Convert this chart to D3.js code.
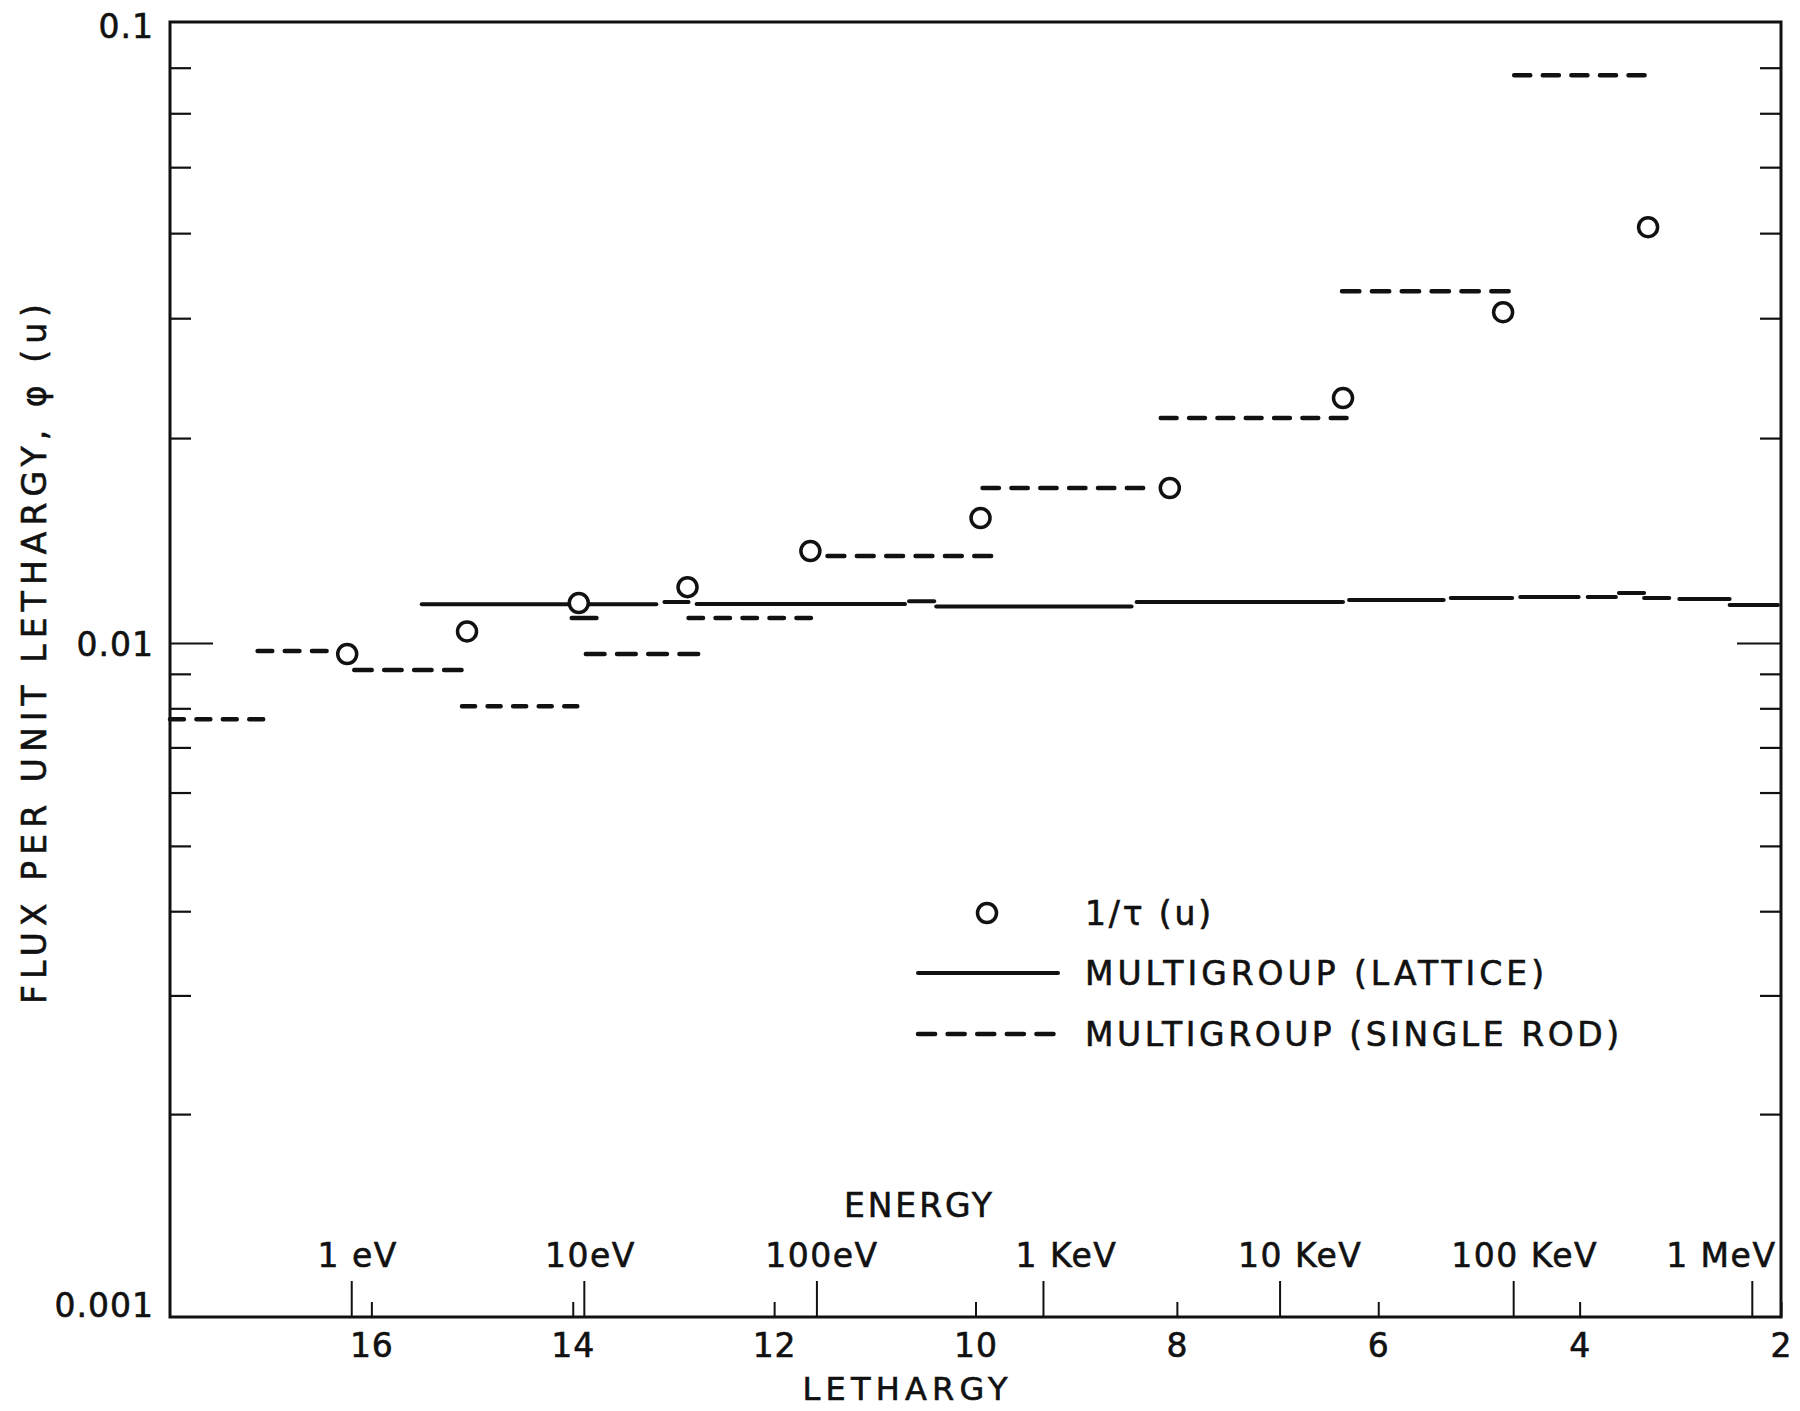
<!DOCTYPE html>
<html>
<head>
<meta charset="utf-8">
<script src="https://cdn.jsdelivr.net/npm/d3@7"></script>
<style>
  html, body { margin: 0; padding: 0; background: #fff; }
  svg { display: block; }
  text { font-family: "DejaVu Sans", "Liberation Sans", sans-serif; fill: #111;
         stroke: #111; stroke-width: 0.6px; }
</style>
</head>
<body>
<svg id="chart" width="1800" height="1411"></svg>
<script>
// ---- Axis definitions -------------------------------------------------
const lethargyTicks = [16, 14, 12, 10, 8, 6, 4, 2];
const energyTickLethargy = [16.20, 13.89, 11.58, 9.33, 6.98, 4.66, 2.29];
const energyTickLabels = ["1 eV", "10eV", "100eV", "1 KeV", "10 KeV", "100 KeV", "1 MeV"];
const fluxMajorTicks = [0.001, 0.01];
const fluxMajorLabels = ["0.001", "0.01"];
const fluxMinorTicks = [0.002, 0.003, 0.004, 0.005, 0.006, 0.007, 0.008, 0.009,
                        0.02, 0.03, 0.04, 0.05, 0.06, 0.07];
const fluxFrameTop = 0.0817;      // flux value at the top edge of the frame
const fluxTopLabel = "0.1";

// ---- 1/tau(u) points ---------------------------------------------------
const ageLethargy = [16.24, 15.05, 13.94, 12.86, 11.64, 9.95, 8.07, 6.35, 4.76, 3.32];
const ageFlux     = [0.00963, 0.01040, 0.01145, 0.01208, 0.01365, 0.01526, 0.01689, 0.02290, 0.03062, 0.04082];

// ---- Multigroup (lattice): group start, group end, flux ------------------
const latticeStart = [15.50, 13.09, 12.77, 10.66, 10.39, 8.40, 6.29, 5.28, 4.59, 3.92, 3.61, 3.36, 3.01, 2.51];
const latticeEnd   = [13.17, 12.85, 10.70, 10.41, 8.45, 6.35, 5.35, 4.67, 4.01, 3.64, 3.36, 3.11, 2.51, 2.03];
const latticeFlux  = [0.01140, 0.01149, 0.01141, 0.01152, 0.01131, 0.01149, 0.01157, 0.01164, 0.01168, 0.01168, 0.01184, 0.01164, 0.01160, 0.01137];

// ---- Multigroup (single rod): group start, group end, flux ---------------
const rodStart = [18.00, 17.13, 16.17, 15.10, 14.01, 13.87, 12.85, 11.47, 9.93, 8.16, 6.36, 4.65];
const rodEnd   = [17.03, 16.40, 15.06, 13.91, 13.72, 12.71, 11.59, 9.80, 8.29, 6.27, 4.66, 3.31];
const rodFlux  = [0.00771, 0.00973, 0.00912, 0.00806, 0.01088, 0.00963, 0.01088, 0.01342, 0.01689, 0.02140, 0.03287, 0.06823];

// ---- Layout --------------------------------------------------------------
const svg = d3.select("#chart");
const plotL = 170, plotR = 1781, plotT = 22, plotB = 1317;

const x = d3.scaleLinear().domain([18, 2]).range([plotL, plotR]);
const y = d3.scaleLog().domain([0.001, 0.01, fluxFrameTop]).range([plotB, 643, plotT]);

const FS = 33;
const DASH_W = 4.5, GAP_VIS = 8, PERIOD = 28;

// dash pattern that fits a whole number of dashes into a segment of length L
function dashFor(L) {
  const n = Math.max(1, Math.round((L + GAP_VIS) / PERIOD));
  const dv = (L - (n - 1) * GAP_VIS) / n;
  return `${Math.max(dv - DASH_W, 0.1)} ${GAP_VIS + DASH_W}`;
}

// frame
svg.append("rect")
  .attr("x", plotL).attr("y", plotT)
  .attr("width", plotR - plotL).attr("height", plotB - plotT)
  .attr("fill", "none").attr("stroke", "#111").attr("stroke-width", 3);

function strip(g) { g.select(".domain").remove(); }

// left flux axis: minor ticks, major tick + labels
svg.append("g").attr("transform", `translate(${plotL},0)`)
  .call(d3.axisLeft(y).tickValues(fluxMinorTicks).tickSize(-21).tickFormat(""))
  .call(strip)
  .selectAll("line").attr("stroke", "#111").attr("stroke-width", 2.2);

const majorLeft = svg.append("g").attr("transform", `translate(${plotL},0)`)
  .call(d3.axisLeft(y).tickValues(fluxMajorTicks)
        .tickSize(-43).tickPadding(16)
        .tickFormat((d, i) => fluxMajorLabels[i]))
  .call(strip);
majorLeft.selectAll("line")
  .attr("stroke", "#111").attr("stroke-width", 2.2)
  .attr("opacity", d => d === 0.001 ? 0 : 1);
majorLeft.selectAll("text")
  .attr("font-size", FS).attr("letter-spacing", 1)
  .attr("font-family", null).attr("fill", "#111")
  .attr("dy", d => d === 0.001 ? "-0.02em" : "0.38em");

svg.append("text")
  .attr("x", plotL - 16).attr("y", y(fluxFrameTop))
  .attr("dy", "0.48em").attr("text-anchor", "end")
  .attr("font-size", FS).attr("letter-spacing", 1)
  .text(fluxTopLabel);

// right flux axis: ticks only
svg.append("g").attr("transform", `translate(${plotR},0)`)
  .call(d3.axisRight(y).tickValues(fluxMinorTicks).tickSize(-21).tickFormat(""))
  .call(strip)
  .selectAll("line").attr("stroke", "#111").attr("stroke-width", 2.2);
svg.append("g").attr("transform", `translate(${plotR},0)`)
  .call(d3.axisRight(y).tickValues([0.01]).tickSize(-44).tickFormat(""))
  .call(strip)
  .selectAll("line").attr("stroke", "#111").attr("stroke-width", 2.2);

// bottom lethargy axis
const lethAxis = svg.append("g").attr("transform", `translate(0,${plotB})`)
  .call(d3.axisBottom(x).tickValues(lethargyTicks).tickSize(-15).tickPadding(17)
        .tickFormat(d3.format("d")))
  .call(strip);
lethAxis.selectAll("line").attr("stroke", "#111").attr("stroke-width", 2);
lethAxis.selectAll("text")
  .attr("font-size", FS).attr("letter-spacing", 1)
  .attr("font-family", null).attr("fill", "#111");

// energy scale drawn on the same bottom edge
const energyShift = [6, 6, 5, 23, 20, 11, -31];
const energyAxis = svg.append("g").attr("transform", `translate(0,${plotB})`)
  .call(d3.axisTop(x).tickValues(energyTickLethargy).tickSize(36).tickPadding(14)
        .tickFormat((d, i) => energyTickLabels[i]))
  .call(strip);
energyAxis.selectAll("line").attr("stroke", "#111").attr("stroke-width", 2);
energyAxis.selectAll("text")
  .attr("font-size", FS).attr("letter-spacing", 1.5)
  .attr("font-family", null).attr("fill", "#111")
  .attr("dx", (d, i) => energyShift[i]);

// axis titles
svg.append("text").attr("x", 918).attr("y", 1217)
  .attr("text-anchor", "middle").attr("font-size", FS)
  .attr("textLength", 148).attr("lengthAdjust", "spacing")
  .text("ENERGY");
svg.append("text").attr("x", 905).attr("y", 1400)
  .attr("text-anchor", "middle").attr("font-size", 32)
  .attr("textLength", 205).attr("lengthAdjust", "spacing")
  .text("LETHARGY");
svg.append("text")
  .attr("transform", "translate(46,654) rotate(-90)")
  .attr("text-anchor", "middle").attr("font-size", FS)
  .attr("textLength", 700).attr("lengthAdjust", "spacing")
  .text("FLUX PER UNIT LETHARGY, φ (u)");

// ---- Data marks ------------------------------------------------------------
const seg = d3.line().x(d => x(d[0])).y(d => y(d[1]));

svg.append("g").selectAll("path")
  .data(d3.range(latticeStart.length))
  .join("path")
  .attr("d", i => seg([[latticeStart[i], latticeFlux[i]], [latticeEnd[i], latticeFlux[i]]]))
  .attr("fill", "none").attr("stroke", "#111")
  .attr("stroke-width", 4).attr("stroke-linecap", "round");

svg.append("g").selectAll("path")
  .data(d3.range(rodStart.length))
  .join("path")
  .attr("d", i => seg([[rodStart[i], rodFlux[i]], [rodEnd[i], rodFlux[i]]]))
  .attr("fill", "none").attr("stroke", "#111")
  .attr("stroke-width", DASH_W).attr("stroke-linecap", "round")
  .attr("stroke-dasharray", i => dashFor(Math.abs(x(rodEnd[i]) - x(rodStart[i]))));

svg.append("g").selectAll("circle")
  .data(d3.range(ageLethargy.length))
  .join("circle")
  .attr("cx", i => x(ageLethargy[i]))
  .attr("cy", i => y(ageFlux[i]))
  .attr("r", 9.5)
  .attr("fill", "#fff").attr("stroke", "#111").attr("stroke-width", 3.5);

// ---- Legend ------------------------------------------------------------------
const legend = svg.append("g");
const legTextX = 1085, legLineX1 = 918, legLineX2 = 1058;
legend.append("circle").attr("cx", 987).attr("cy", 913).attr("r", 9.5)
  .attr("fill", "#fff").attr("stroke", "#111").attr("stroke-width", 3.5);
legend.append("text").attr("x", legTextX).attr("y", 913).attr("dy", "0.36em")
  .attr("font-size", FS).attr("textLength", 126).attr("lengthAdjust", "spacing")
  .text("1/τ (u)");

legend.append("line").attr("x1", legLineX1).attr("x2", legLineX2).attr("y1", 973).attr("y2", 973)
  .attr("stroke", "#111").attr("stroke-width", 4).attr("stroke-linecap", "round");
legend.append("text").attr("x", legTextX).attr("y", 973).attr("dy", "0.36em")
  .attr("font-size", FS).attr("textLength", 459).attr("lengthAdjust", "spacing")
  .text("MULTIGROUP (LATTICE)");

legend.append("line").attr("x1", legLineX1).attr("x2", legLineX2).attr("y1", 1034).attr("y2", 1034)
  .attr("stroke", "#111").attr("stroke-width", DASH_W).attr("stroke-linecap", "round")
  .attr("stroke-dasharray", dashFor(legLineX2 - legLineX1));
legend.append("text").attr("x", legTextX).attr("y", 1034).attr("dy", "0.36em")
  .attr("font-size", FS).attr("textLength", 534).attr("lengthAdjust", "spacing")
  .text("MULTIGROUP (SINGLE ROD)");
</script>
</body>
</html>
